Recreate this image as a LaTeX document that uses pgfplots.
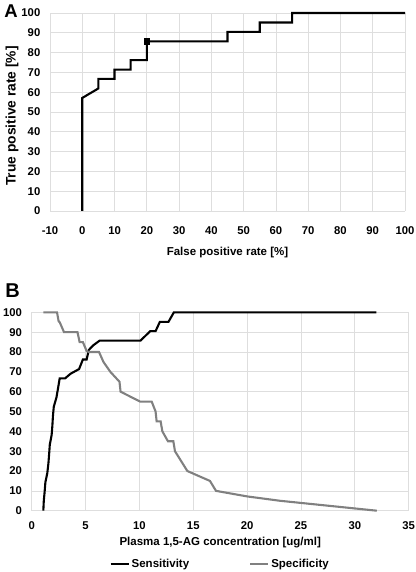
\documentclass[border=0pt]{standalone}
\usepackage{fontspec}
\setmainfont{Liberation Sans}
\usepackage{pgfplots}
\pgfplotsset{compat=1.18}
\definecolor{gridgray}{RGB}{222,222,222}
\definecolor{specgray}{RGB}{128,128,128}
\begin{document}
\begin{tikzpicture}
\path[use as bounding box] (0,0) rectangle (416bp,572bp);
\pgfplotsset{
  common/.style={
    scale only axis, clip=false,
    grid=major, major grid style={draw=gridgray, line width=0.7pt},
    axis line style={draw=none}, tick style={draw=none},
    ymin=0, ymax=100, ytick={0,10,...,100},
    /pgf/number format/assume math mode=true,
    ticklabel style={font=\fontsize{11.3bp}{12bp}\selectfont\bfseries, inner sep=0pt},
    yticklabel style={anchor=east, xshift=-9.5bp},
    label style={font=\fontsize{11.5bp}{12bp}\selectfont\bfseries, inner sep=0pt},
  }
}
% Panel A
\begin{axis}[common, at={(50bp,361bp)}, anchor=south west,
  width=355bp, height=198bp,
  xmin=-10, xmax=100, xtick={-10,0,...,100},
  xticklabel style={anchor=center, yshift=-19.5bp},
  xlabel={False positive rate [\%]},
  xlabel style={at={(axis description cs:0.5,-0.2121)}, anchor=center},
  ylabel={True positive rate [\%]},
  ylabel style={at={(axis description cs:-0.107,0.48)}, anchor=center, font=\fontsize{13.8bp}{14bp}\selectfont\bfseries},
]
\addplot[black, line width=2.1pt, line join=miter] coordinates {
(0,0) (0,57.1) (5,61.9) (5,66.7) (10,66.7) (10,71.4) (15,71.4) (15,76.2)
(20,76.2) (20,85.7) (45,85.7) (45,90.5) (55,90.5) (55,95.2) (65,95.2)
(65,100) (100,100)};
\addplot[black, only marks, mark=square*, mark size=2.7pt] coordinates {(20,85.7)};
\end{axis}
% Panel B
\begin{axis}[common, at={(31.7bp,61.3bp)}, anchor=south west,
  width=377bp, height=198.4bp,
  xmin=0, xmax=35, xtick={0,5,...,35},
  xticklabel style={anchor=center, yshift=-15bp},
  xlabel={Plasma 1,5-AG concentration [ug/ml]},
  xlabel style={at={(axis description cs:0.5,-0.163)}, anchor=center},
  legend columns=2,
  legend style={draw=none, at={(0.5,-0.268)}, anchor=center,
    font=\fontsize{11.5bp}{12bp}\selectfont\bfseries,
    /tikz/every even column/.append style={column sep=58bp},
    inner sep=0pt},
  legend image code/.code={\draw[#1, line width=2.1pt] (0bp,0bp) -- (18bp,0bp);},
]
\addplot[black, line width=2.1pt] coordinates {
(1.08,0) (1.12,4.8) (1.2,9.5) (1.27,14.3) (1.45,19.0) (1.55,23.8) (1.62,28.6)
(1.68,33.3) (1.85,38.1) (1.92,42.9) (1.97,47.6) (2.05,52.4) (2.3,57.1)
(2.45,61.9) (2.6,66.7) (3.1,66.7) (3.6,69.0) (4.4,71.4) (4.75,76.2) (5.1,76.2)
(5.3,81.0) (5.7,83.3) (6.3,85.7) (10.1,85.7) (11.0,90.5) (11.5,90.5)
(11.9,95.2) (12.7,95.2) (13.2,100) (32,100)};
\addlegendentry{Sensitivity}
\addplot[specgray, line width=2.1pt] coordinates {
(1.08,100) (2.35,100) (2.5,95.5) (2.6,95) (3.0,90) (4.25,90) (4.45,85)
(4.75,85) (5.1,80.5) (5.3,80) (6.25,80) (6.66,75) (7.3,70) (8.15,65)
(8.25,60) (10.06,55) (11.14,55) (11.5,50) (11.6,45) (11.97,45) (12.13,40)
(12.65,35) (13.15,35) (13.3,30) (14.45,20) (16.55,15) (17.11,10)
(20,7.2) (23.05,5) (32.04,0)};
\addlegendentry{Specificity}
\end{axis}
\node[font=\fontsize{18.5bp}{20bp}\selectfont\bfseries, inner sep=0pt] at (11bp,560.5bp) {A};
\node[font=\fontsize{20bp}{22bp}\selectfont\bfseries, inner sep=0pt] at (12.5bp,281.5bp) {B};
\end{tikzpicture}
\end{document}
